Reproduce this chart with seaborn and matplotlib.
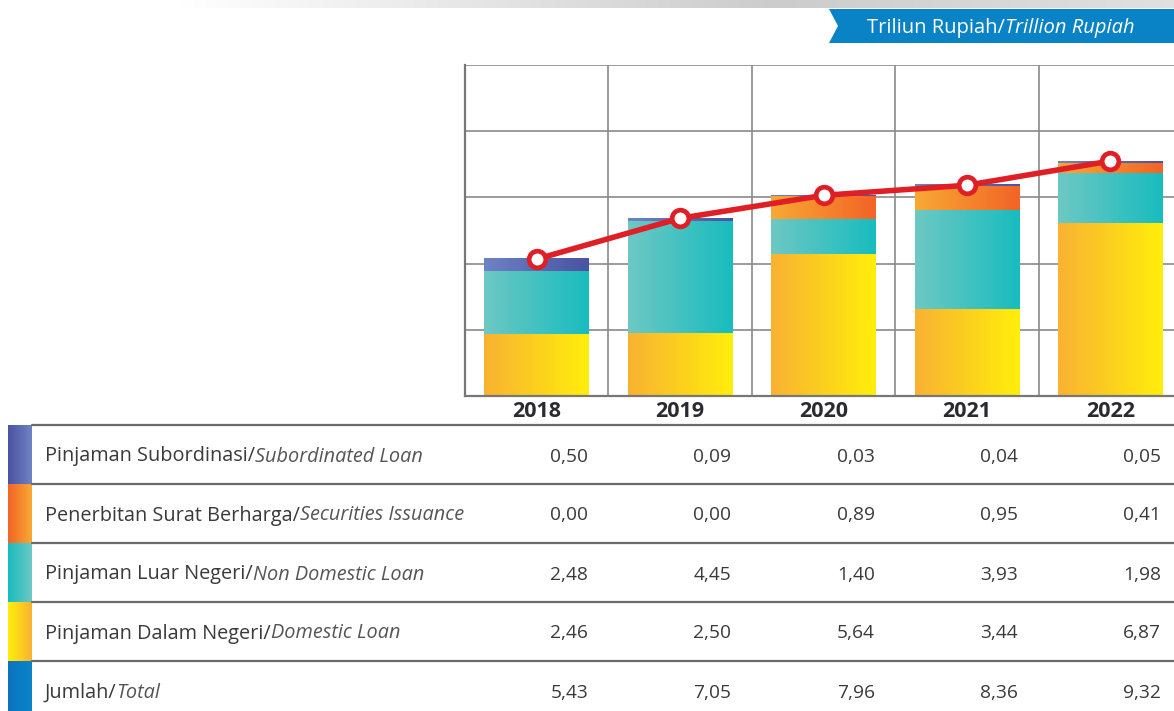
import numpy as np
import pandas as pd
import matplotlib
matplotlib.use("Agg")
import matplotlib.pyplot as plt
import seaborn as sns
from matplotlib.patches import Polygon

# data (Triliun Rupiah)
years = ["2018", "2019", "2020", "2021", "2022"]
domestic = [2.46, 2.50, 5.64, 3.44, 6.87]
non_domestic = [2.48, 4.45, 1.40, 3.93, 1.98]
securities = [0.00, 0.00, 0.89, 0.95, 0.41]
subordinated = [0.50, 0.09, 0.03, 0.04, 0.05]
totals = [5.43, 7.05, 7.96, 8.36, 9.32]

labels_id = ["Pinjaman Subordinasi/", "Penerbitan Surat Berharga/",
             "Pinjaman Luar Negeri/", "Pinjaman Dalam Negeri/", "Jumlah/"]
labels_en = ["Subordinated Loan", "Securities Issuance",
             "Non Domestic Loan", "Domestic Loan", "Total"]

def fmt(v):
    return f"{v:.2f}".replace(".", ",")

sns.set_theme(style="white")
plt.rcParams["font.family"] = ["Open Sans", "DejaVu Sans"]

W, H = 1174, 711
fig = plt.figure(figsize=(W / 100, H / 100), dpi=100)

# gradient colours (left -> right)
grad = {
    "domestic": ("#F9B233", "#FFEE0A"),
    "non_domestic": ("#6DC8C4", "#19BCBF"),
    "securities": ("#F8A933", "#F26427"),
    "subordinated": ("#6D82C3", "#4A53A1"),
}

def hgrad(c0, c1, n=64):
    a = np.array(matplotlib.colors.to_rgb(c0))
    b = np.array(matplotlib.colors.to_rgb(c1))
    t = np.linspace(0, 1, n)[None, :, None]
    return a + (b - a) * t

# background layer (figure pixels)
bg = fig.add_axes([0, 0, 1, 1], zorder=-5)
bg.set_xlim(0, W)
bg.set_ylim(H, 0)
bg.axis("off")
prof = np.concatenate([np.linspace(1, 0.8, 120), np.linspace(0.8, 0.88, 80)])
shade = np.ones((1, 200, 3)) * prof[None, :, None]
bg.imshow(shade, extent=[180, W, 8, 0], aspect="auto", interpolation="bilinear")

# banner
bg.add_patch(Polygon([[829, 9], [W, 9], [W, 43], [829, 43], [838, 26]],
                     closed=True, color="#0A82C6", lw=0))
bg.text(1005, 33, "Triliun Rupiah/", color="white", fontsize=14.5,
        ha="right", va="baseline")
bg.text(1005, 33, "Trillion Rupiah", color="white", fontsize=14.5,
        ha="left", va="baseline", style="italic")

# chart axes
ax_l, ax_t, ax_b = 465, 65, 396
ax_w = 717
ax = fig.add_axes([ax_l / W, 1 - ax_b / H, ax_w / W, (ax_b - ax_t) / H])

df = pd.DataFrame({"year": years, "domestic": domestic,
                   "non_domestic": non_domestic, "securities": securities,
                   "subordinated": subordinated, "total": totals})
order = ["domestic", "non_domestic", "securities", "subordinated"]
cum = df[order].cumsum(axis=1)

# cumulative bars (tallest first), then gradient segments painted on top
bar_w = 0.73
layers = {}
for key in reversed(order):
    n0 = len(ax.patches)
    sns.barplot(x=df["year"], y=cum[key], ax=ax, width=bar_w,
                color="white", linewidth=0, alpha=0.0)
    layers[key] = ax.patches[n0:]

prev = None
for key in order:
    img = hgrad(*grad[key])
    for i, p in enumerate(layers[key]):
        bottom = -0.03 if prev is None else layers[prev][i].get_height()
        top = p.get_height()
        if top - max(bottom, 0) <= 0:
            continue
        x0 = p.get_x()
        ax.imshow(img, extent=[x0, x0 + p.get_width(), bottom, top],
                  aspect="auto", interpolation="bilinear", zorder=2)
    prev = key

# total line
sns.pointplot(x=df["year"], y=df["total"], ax=ax, color="#E01E26",
              markers="o", errorbar=None, linewidth=4, markersize=12)
for ln in ax.lines:
    ln.set_markerfacecolor("white")
    ln.set_markeredgecolor("#E01E26")
    ln.set_markeredgewidth(3.4)
    ln.set_zorder(4)
for c in ax.collections:
    c.set_zorder(4)
    c.set_facecolor("white")
    c.set_edgecolor("#E01E26")
    c.set_linewidth(3.4)

ymax = 13.13
ax.set_xlim(-0.5, 4.5)
ax.set_ylim(0, ymax)
ax.set_yticks(np.linspace(0, ymax, 6))
ax.set_yticklabels([])
ax.set_xticks(np.arange(-0.5, 5, 1))
ax.set_xticklabels([])
ax.grid(True, color="#8A8A8A", linewidth=1.2, zorder=0)
ax.set_axisbelow(True)
for s in ["top", "right"]:
    ax.spines[s].set_visible(False)
for s in ["left", "bottom"]:
    ax.spines[s].set_color("#777777")
    ax.spines[s].set_linewidth(1.6)
ax.tick_params(length=0)
ax.set_xlabel("")
ax.set_ylabel("")
ax.set_facecolor("white")

# year labels
for i, y in enumerate(years):
    bg.text(ax_l + (i + 0.5) * ax_w / 5, 417, y, ha="center", va="baseline",
            fontsize=15.5, fontweight="bold", color="#2A2A30")

# table
row_tops = [425, 484, 543, 602, 661]
row_h = 59
val_x = [588, 731, 875, 1018, 1161]
rows = [subordinated, securities, non_domestic, domestic, totals]
swatches = [("#4A53A1", "#7082C4"), ("#F26427", "#F8A933"),
            ("#19BCBF", "#6DC8C4"), ("#FFEE0A", "#F9B233"),
            ("#0B74C0", "#0A84C8")]
fig.canvas.draw()
renderer = fig.canvas.get_renderer()
for r, top in enumerate(row_tops):
    bg.plot([32, W], [top, top], color="#6A6A6A", lw=1.6)
    bg.imshow(hgrad(*swatches[r]), extent=[8, 32, min(top + row_h, H), top],
              aspect="auto", interpolation="bilinear")
    base = top + row_h / 2 + 7
    t = bg.text(45, base, labels_id[r], fontsize=14.3, color="#3A3A3A",
                ha="left", va="baseline")
    x_end = t.get_window_extent(renderer=renderer).x1
    bg.annotate(labels_en[r], xy=(x_end, H - base), xycoords="figure pixels",
                fontsize=14.3, color="#555555", style="italic",
                ha="left", va="baseline")
    for j, v in enumerate(rows[r]):
        bg.text(val_x[j], base, fmt(v), fontsize=13.8, color="#3A3A3A",
                ha="right", va="baseline")

fig.savefig("out.png", dpi=100)
